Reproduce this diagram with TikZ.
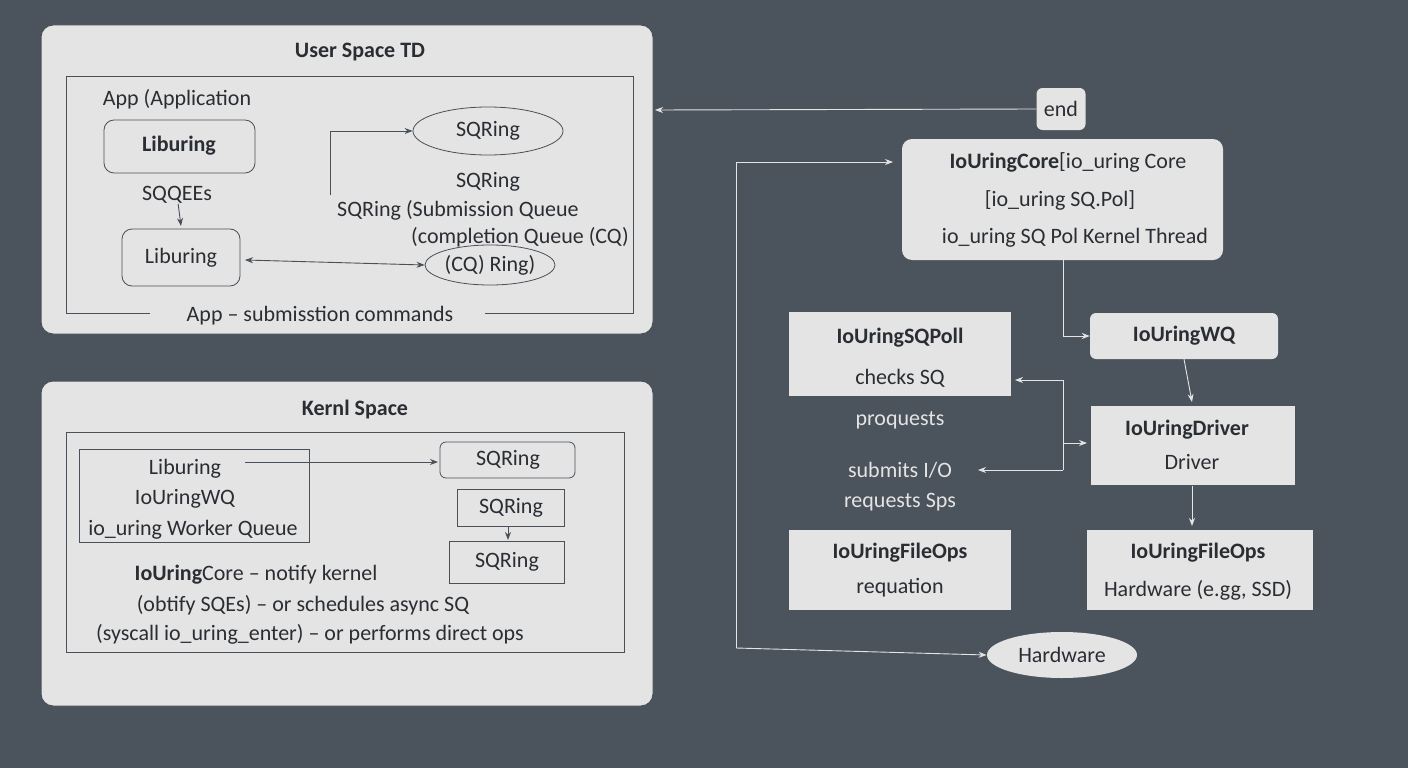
\documentclass[tikz,border=0pt]{standalone}
\usepackage{fontspec}
\setmainfont{Carlito}
\usetikzlibrary{arrows.meta,shapes.geometric}
\definecolor{bg}{HTML}{4B535C}
\definecolor{panel}{HTML}{E4E4E4}
\definecolor{ln}{HTML}{4A5058}
\definecolor{tx}{HTML}{2A2E33}
\tikzset{
 x=1pt,y=-1pt,
 txt/.style={text=tx,font=\fontsize{22}{24}\selectfont,inner sep=0pt},
 bt/.style={txt,font=\fontsize{22}{24}\selectfont\bfseries},
 box/.style={draw=ln,line width=0.8pt,fill=panel},
 rbox/.style={box,rounded corners=10pt},
 lbox/.style={fill=panel,draw=none,rounded corners=6pt},
 arr/.style={-{Stealth[length=8pt,width=6pt]},line width=0.9pt,draw=ln},
 warr/.style={-{Stealth[length=8pt,width=6pt]},line width=0.9pt,draw=panel},
 ell/.style={ellipse,draw=ln,line width=0.8pt,fill=panel,txt}
}
\begin{document}
\begin{tikzpicture}
\fill[bg] (0,0) rectangle (1408,768);
\useasboundingbox (0,0) rectangle (1408,768);
% User space
\draw[draw=ln,fill=panel,rounded corners=12pt,line width=1pt] (41,25) rectangle (653,334);
\node[bt] (ut) at (360,52) {User Space TD};
\draw[ln,line width=0.8pt] (150,313) -- (66,313) -- (66,76) -- (633,76) -- (633,313) -- (485,313);
\node[txt] (app) at (177,99) {App (Application};
\draw[rbox] (104,120) rectangle (255,173);
\node[bt] (lib1) at (179,146) {Liburing};
\node[txt] (sqe) at (177,195) {SQQEEs};
\draw[rbox] (122,229) rectangle (240,286);
\node[txt] (lib2) at (181,258) {Liburing};
\draw[arr] (sqe) -- (181,226);
\node[ell,minimum width=150pt,minimum height=48pt] (sq1) at (488,131) {SQRing};
\coordinate (c1) at (330,195);
\draw[arr] (c1) -- (330,131) -- (sq1.west);
\node[txt] (t1) at (488,182) {SQRing};
\node[txt] (t2) at (458,210) {SQRing (Submission Queue};
\node[txt] (t3) at (520,237) {(completion Queue (CQ)};
\node[ell,minimum width=130pt,minimum height=40pt] (cq) at (490,265) {(CQ) Ring)};
\draw[arr,{Stealth[length=8pt,width=6pt]}-{Stealth[length=8pt,width=6pt]}] (245,260) -- (cq.west);
\node[txt] (sub) at (320,316) {App – submisstion commands};
% Kernel space
\draw[draw=ln,fill=panel,rounded corners=12pt,line width=1pt] (41,381) rectangle (653,706);
\node[bt] (kt) at (355,410) {Kernl Space};
\draw[ln,line width=0.8pt] (66,432) rectangle (624,652);
\draw[box] (79,449) rectangle (309,542);
\node[txt] (k1) at (185,469) {Liburing};
\node[txt] (k2) at (185,499) {IoUringWQ};
\node[txt] (k3) at (193,530) {io\_uring Worker Queue};
\draw[rbox,rounded corners=6pt] (440,442) rectangle (575,478);
\node[txt] (ks1) at (508,460) {SQRing};
\draw[arr] (245,462) -- (438,462);
\draw[box] (457,489) rectangle (564,526);
\node[txt] (ks2) at (511,508) {SQRing};
\draw[box] (449,541) rectangle (564,583);
\node[txt] (ks3) at (507,562) {SQRing};
\draw[arr] (508,526) -- (508,540);
\node[txt] (n1) at (256,575) {\textbf{IoUring}Core – notify kernel};
\node[txt] (n2) at (303,605) {(obtify SQEs) – or schedules async SQ};
\node[txt] (n3) at (310,634) {(syscall io\_uring\_enter) – or performs direct ops};
% right side
\node[lbox,minimum width=49pt,minimum height=42pt,txt] (end) at (1061,109) {end};
\draw[warr] (end.west) -- (655,110);
\draw[lbox,rounded corners=10pt] (902,139) rectangle (1223,260);
\node[txt] (c1t) at (1068,162) {\textbf{IoUringCore}[io\_uring Core};
\node[txt] (c2t) at (1060,200) {[io\_uring SQ.Pol]};
\node[txt] (c3t) at (1075,238) {io\_uring SQ Pol Kernel Thread};
\node[ell,draw=none,minimum width=150pt,minimum height=46pt] (hw) at (1062,655) {Hardware};
\coordinate (lc) at (736,648);
\draw[warr] (lc) -- (736,162) -- (893,162);
\draw[warr] (lc) -- (hw.west);
\draw[lbox,rounded corners=0pt] (789,312) rectangle (1011,396);
\node[bt] (sp) at (900,338) {IoUringSQPoll};
\node[txt] (sp2) at (900,378) {checks SQ};
\node[txt,text=panel] (pq) at (900,420) {proquests};
\node[txt,text=panel] (si) at (900,470) {submits I/O};
\node[txt,text=panel] (rs) at (900,502) {requests Sps};
\draw[lbox,rounded corners=0pt] (789,530) rectangle (1011,610);
\node[bt] (fo1) at (900,553) {IoUringFileOps};
\node[txt] (fo1b) at (900,588) {requation};
\node[lbox,minimum width=188pt,minimum height=46pt,bt] (wq) at (1184,336) {IoUringWQ};
\draw[warr] (1063,260) -- (1063,336) -- (wq.west);
\draw[lbox,rounded corners=0pt] (1091,406) rectangle (1295,485);
\node[bt] (dr) at (1187,430) {IoUringDriver};
\node[txt] (dr2) at (1192,462) {Driver};
\draw[warr] (wq.south) -- (1192,402);
\draw[warr] (1063,380) -- (1015,380);
\draw[line width=0.9pt,draw=panel] (1063,380) -- (1063,470);
\draw[warr] (1063,443) -- (1087,443);
\draw[warr] (1063,470) -- (978,470);
\draw[lbox,rounded corners=0pt] (1087,530) rectangle (1313,610);
\node[bt] (fo2) at (1198,553) {IoUringFileOps};
\node[txt] (fo2b) at (1198,590) {Hardware (e.gg, SSD)};
\draw[warr] (1192,486) -- (1192,526);
\end{tikzpicture}
\end{document}
